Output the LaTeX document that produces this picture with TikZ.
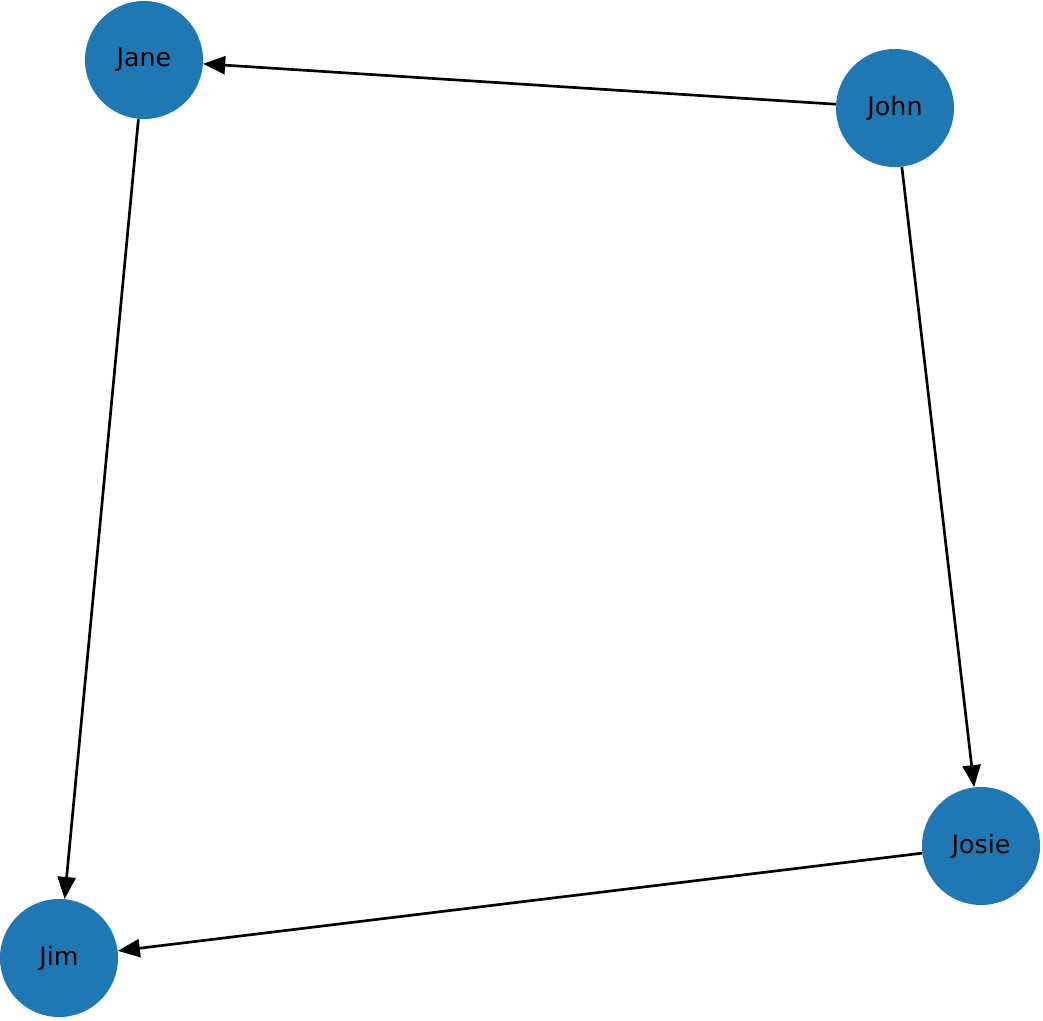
\documentclass[tikz,border=0pt]{standalone}
\usepackage{fontspec}
\setmainfont{DejaVu Sans}
\usetikzlibrary{arrows.meta}
\definecolor{nodeblue}{RGB}{31,120,180}

\begin{document}
\begin{tikzpicture}[
    x=0.025cm, y=-0.025cm,
    person/.style={circle, fill=nodeblue, minimum size=2.95cm, inner sep=0pt,
                   font=\fontsize{18}{21}\selectfont},
    arr/.style={-{Triangle[length=0.55cm, width=0.45cm]}, line width=1.9pt}
]
    \useasboundingbox (0,0) rectangle (1043,1020);

    \node[person] (jane) at (144,60) {Jane};
    \node[person] (john) at (895,108) {John};
    \node[person] (josie) at (981,846) {Josie};
    \node[person] (jim) at (59,958) {Jim};

    \draw[arr] (john) -- (jane);
    \draw[arr] (john) -- (josie);
    \draw[arr] (jane) -- (jim);
    \draw[arr] (josie) -- (jim);
\end{tikzpicture}
\end{document}
